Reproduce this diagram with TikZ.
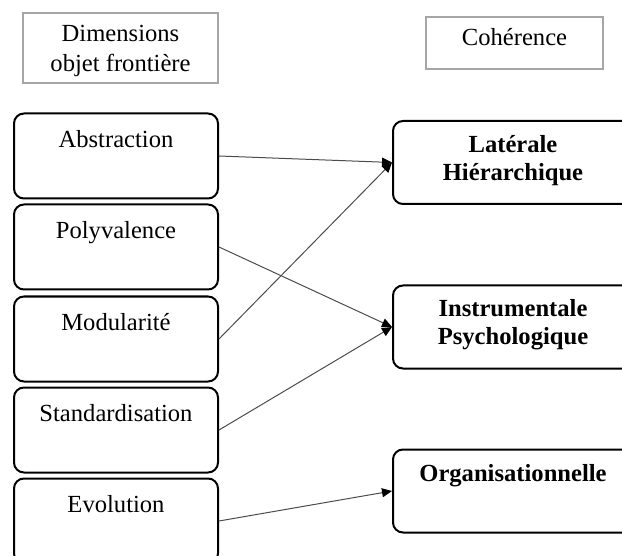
\documentclass[tikz,border=0pt]{standalone}
\usepackage{fontspec}
\setmainfont{Liberation Serif}
\usetikzlibrary{arrows.meta,calc}
\begin{document}
\begin{tikzpicture}[x=0.5pt,y=-0.5pt,
  hdr/.style={draw=black!35, line width=0.6pt, rectangle, inner sep=0pt},
  dimbox/.style={draw=black, line width=1pt, rounded corners=5pt, inner sep=0pt, minimum width=102pt, minimum height=42.5pt},
  cohbox/.style={draw=black, line width=1pt, rounded corners=5pt, inner sep=0pt, minimum width=120pt, minimum height=41.5pt},
  txt/.style={inner sep=0pt, font=\fontsize{12.3}{15}\selectfont, align=center},
  btxt/.style={inner sep=0pt, font=\fontsize{12.3}{14}\selectfont\bfseries, align=center},
  conn/.style={draw=black!70, line width=0.5pt, -{Triangle[length=5pt,width=4.5pt,color=black]}}
]
\useasboundingbox (0,0) rectangle (622,556);
\clip (0,0) rectangle (622,556);
% headers
\node[hdr, minimum width=97.5pt, minimum height=35pt] (hdim) at (120.5,48) {};
\node[txt, anchor=base] (hdimt) at ($(hdim.north)+(0,59)$) {Dimensions\\objet frontière};
\node[hdr, minimum width=88.5pt, minimum height=26pt] (hcoh) at (514.5,43) {};
\node[txt, anchor=base] (hcoht) at ($(hcoh.north)+(0,29)$) {Cohérence};
% left boxes
\node[dimbox] (abs) at (116,156) {};
\node[dimbox] (pol) at (116,247) {};
\node[dimbox] (mod) at (116,339) {};
\node[dimbox] (sta) at (116,430) {};
\node[dimbox] (evo) at (116,521) {};
\node[txt, anchor=base] at ($(abs.north)+(0,35)$) {Abstraction};
\node[txt, anchor=base] at ($(pol.north)+(0,35)$) {Polyvalence};
\node[txt, anchor=base] at ($(mod.north)+(0,35)$) {Modularité};
\node[txt, anchor=base] at ($(sta.north)+(0,35)$) {Standardisation};
\node[txt, anchor=base] at ($(evo.north)+(0,35)$) {Evolution};
% right boxes
\node[cohbox] (lat) at (513,162.5) {};
\node[cohbox] (ins) at (513,327) {};
\node[cohbox] (org) at (513,491) {};
\node[btxt, anchor=base] at ($(lat.north)+(0,61)$) {Latérale\\Hiérarchique};
\node[btxt, anchor=base] at ($(ins.north)+(0,60)$) {Instrumentale\\Psychologique};
\node[btxt, anchor=base] at ($(org.north)+(0,33)$) {Organisationnelle};
% connectors
\draw[conn] (abs.east) -- (lat.west);
\draw[conn] (mod.east) -- (lat.west);
\draw[conn] (pol.east) -- (ins.west);
\draw[conn] (sta.east) -- (ins.west);
\draw[conn] (evo.east) -- (org.west);
\end{tikzpicture}
\end{document}
